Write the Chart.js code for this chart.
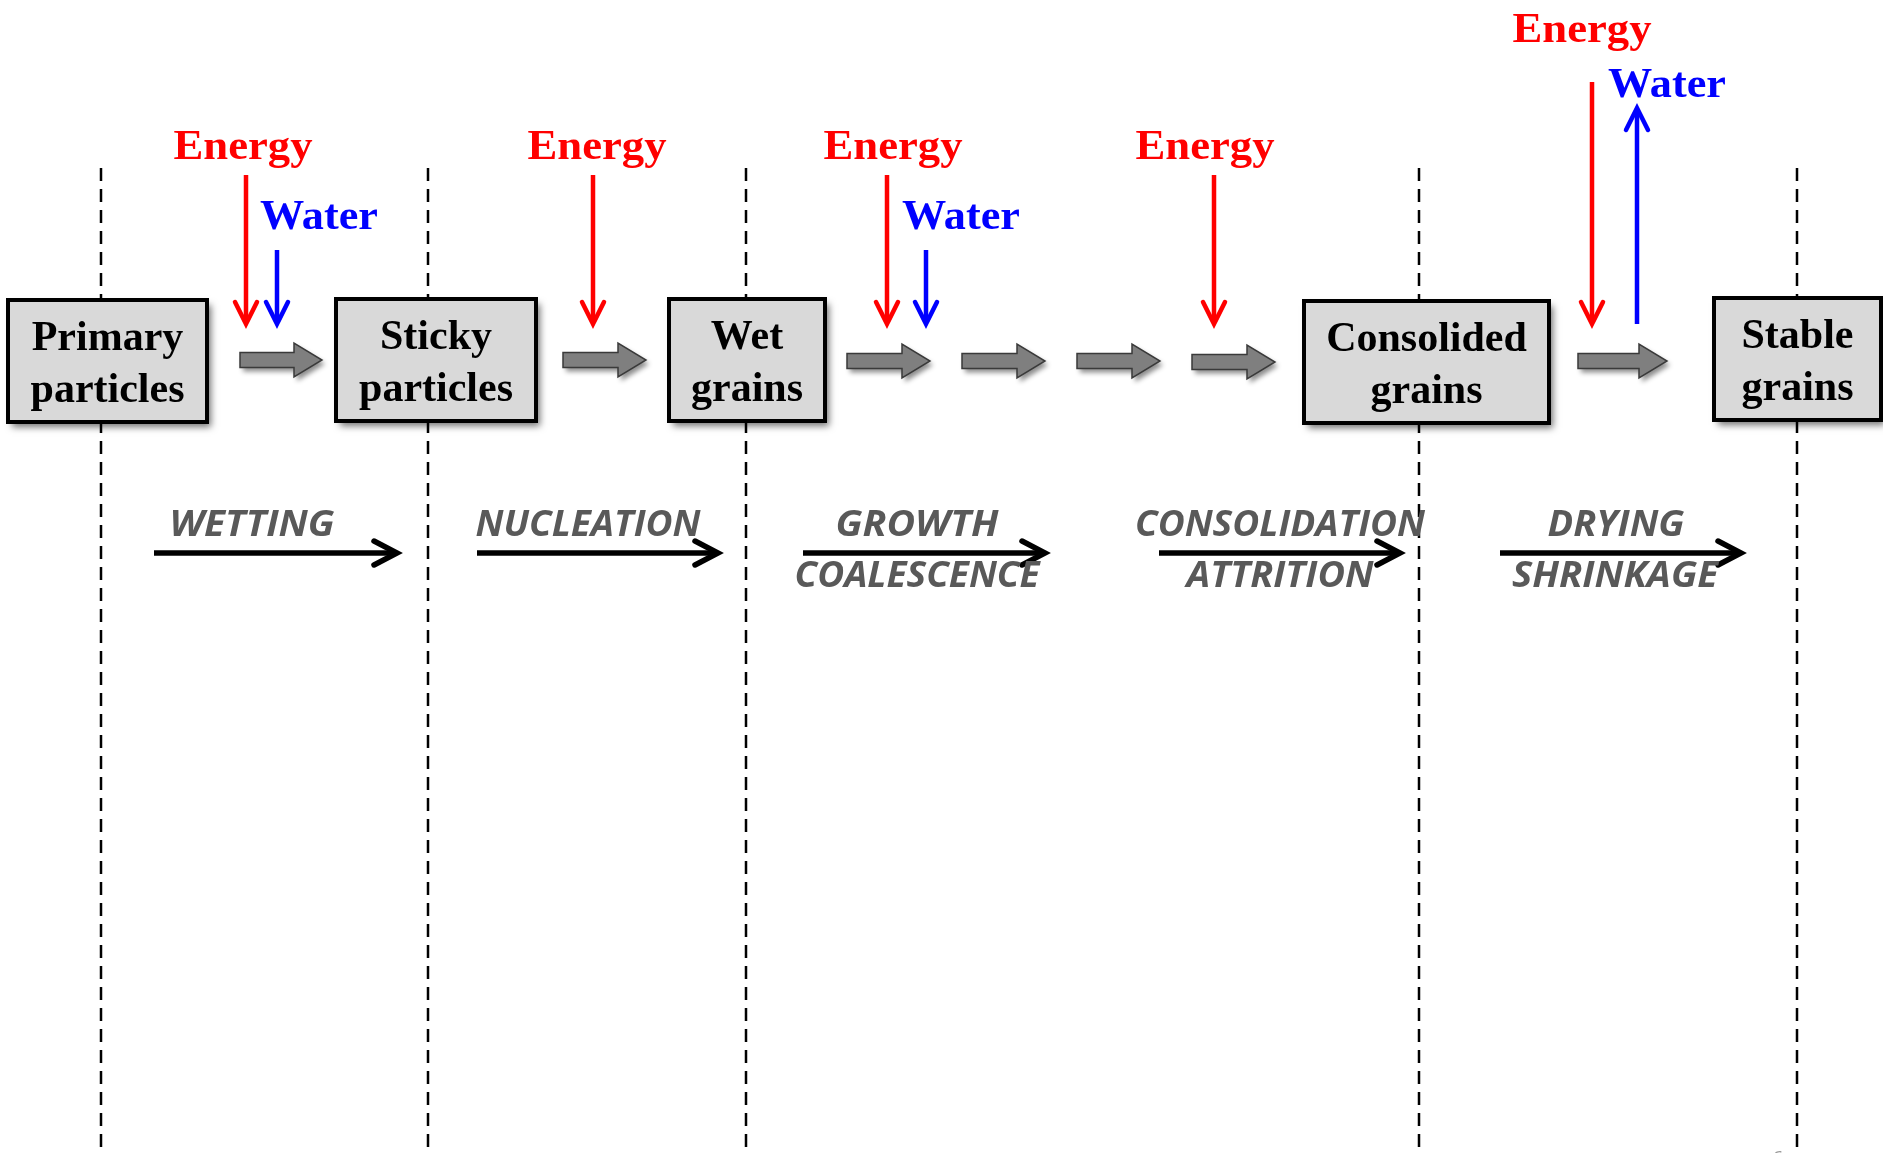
<!DOCTYPE html>
<html><head><meta charset="utf-8">
<script src="https://cdn.jsdelivr.net/npm/chart.js@4"></script>
<style>html,body{margin:0;padding:0;background:#fff;overflow:hidden}#wrap{width:1883px;height:1153px}</style>
</head><body><div id="wrap"><canvas id="c" width="1883" height="1153"></canvas></div>
<script>
// ---- diagram data (diagram coordinates: x 0..1883, y 0..1153 downward) ----
const stageTop = ['Primary', 'Sticky', 'Wet', 'Consolided', 'Stable'];
const stageBottom = ['particles', 'particles', 'grains', 'grains', 'grains'];
const stageLeft = [8, 336, 669, 1304, 1714];
const stageRight = [207, 536, 825, 1549, 1881];
const stageMid = [361, 360, 360, 362, 359];
const dividerX = [101, 428, 746, 1419, 1797];
const energyX = [246, 593, 887, 1214, 1592];
const energyTopY = [175, 175, 175, 175, 82];
const energyLabelX = [243, 597, 893, 1205, 1582];
const energyLabelY = [159, 159, 159, 159, 42];
const waterInX = [277, 926];
const waterOutX = [1637];
const waterLabelX = [319, 961, 1667];
const waterLabelY = [229, 229, 97];
const flowStart = [240, 563, 847, 962, 1077, 1192, 1578];
const flowEnd = [322, 646, 930, 1045, 1160, 1275, 1667];
const flowY = [360, 360, 361, 361, 361, 362, 361];
const processTop = ['WETTING', 'NUCLEATION', 'GROWTH', 'CONSOLIDATION', 'DRYING'];
const processBottom = ['', '', 'COALESCENCE', 'ATTRITION', 'SHRINKAGE'];
const processTopX = [252, 588, 917, 1280, 1616];
const processTopW = [165, 225, 163, 290, 137];
const processBottomX = [0, 0, 917, 1280, 1615];
const processBottomW = [0, 0, 245, 187, 206];
const processArrowFrom = [154, 477, 803, 1159, 1500];
const processArrowTo = [397, 718, 1045, 1400, 1741];

const dividerSets = dividerX.map(x => ({
  type: 'line', data: [{x: x, y: 168}, {x: x, y: 1153}],
  borderColor: '#000', borderWidth: 2.5, borderDash: [13, 8], pointRadius: 0, showLine: true, fill: false
}));

function fitText(ctx, text, cx, by, w) {
  const m = ctx.measureText(text).width;
  const s = w ? w / m : 1;
  ctx.save();
  ctx.translate(cx, by);
  ctx.scale(s, 1);
  ctx.textAlign = 'center';
  ctx.textBaseline = 'alphabetic';
  ctx.fillText(text, 0, 0);
  ctx.restore();
}

function vArrow(ctx, x, y0, y1, color, lw) {
  const dir = y1 > y0 ? 1 : -1;
  ctx.save();
  ctx.strokeStyle = color; ctx.lineWidth = lw; ctx.lineCap = 'butt'; ctx.lineJoin = 'miter';
  ctx.beginPath(); ctx.moveTo(x, y0); ctx.lineTo(x, y1 - dir * 2); ctx.stroke();
  ctx.lineCap = 'round';
  ctx.beginPath();
  ctx.moveTo(x - 11, y1 - dir * 22); ctx.lineTo(x, y1); ctx.lineTo(x + 11, y1 - dir * 22);
  ctx.stroke();
  ctx.restore();
}

const diagram = {
  id: 'diagram',
  afterDatasetsDraw(chart) {
    const ctx = chart.ctx, X = v => chart.scales.x.getPixelForValue(v), Y = v => chart.scales.y.getPixelForValue(v);
    // stage boxes
    for (let i = 0; i < stageTop.length; i++) {
      const l = X(stageLeft[i]), r = X(stageRight[i]), mid = Y(stageMid[i]);
      const t = mid - 61, b = mid + 61;
      ctx.save();
      ctx.shadowColor = 'rgba(0,0,0,0.55)'; ctx.shadowBlur = 7; ctx.shadowOffsetX = 4; ctx.shadowOffsetY = 5;
      ctx.fillStyle = '#d9d9d9';
      ctx.fillRect(l, t, r - l, b - t);
      ctx.restore();
      ctx.save();
      ctx.strokeStyle = '#000'; ctx.lineWidth = 4;
      ctx.strokeRect(l, t, r - l, b - t);
      ctx.fillStyle = '#000';
      ctx.font = 'bold 42px "Liberation Serif"';
      const cx = (l + r) / 2;
      fitText(ctx, stageTop[i], cx, mid - 11, null);
      fitText(ctx, stageBottom[i], cx, mid + 41, null);
      ctx.restore();
    }
    // gray flow arrows
    for (let i = 0; i < flowStart.length; i++) {
      const x0 = X(flowStart[i]), x1 = X(flowEnd[i]), y = Y(flowY[i]);
      const hl = 28, sh = 7.5, hh = 17;
      const path = () => {
        ctx.beginPath();
        ctx.moveTo(x0, y - sh); ctx.lineTo(x1 - hl, y - sh); ctx.lineTo(x1 - hl, y - hh);
        ctx.lineTo(x1, y); ctx.lineTo(x1 - hl, y + hh); ctx.lineTo(x1 - hl, y + sh); ctx.lineTo(x0, y + sh);
        ctx.closePath();
      };
      ctx.save();
      ctx.shadowColor = 'rgba(0,0,0,0.45)'; ctx.shadowBlur = 5; ctx.shadowOffsetX = 3; ctx.shadowOffsetY = 4;
      path(); ctx.fillStyle = '#7f7f7f'; ctx.fill();
      ctx.restore();
      ctx.save();
      path(); ctx.strokeStyle = '#3a3a3a'; ctx.lineWidth = 1.5; ctx.stroke();
      ctx.restore();
    }
    // energy / water arrows and labels
    ctx.save();
    ctx.font = 'bold 43px "Liberation Serif"';
    ctx.fillStyle = '#ff0000';
    for (let i = 0; i < energyX.length; i++) {
      vArrow(ctx, X(energyX[i]), Y(energyTopY[i]), Y(324), '#ff0000', 4.5);
      fitText(ctx, 'Energy', X(energyLabelX[i]), Y(energyLabelY[i]), 139);
    }
    ctx.fillStyle = '#0000ff';
    for (let i = 0; i < waterInX.length; i++) vArrow(ctx, X(waterInX[i]), Y(250), Y(324), '#0000ff', 4.5);
    for (let i = 0; i < waterOutX.length; i++) vArrow(ctx, X(waterOutX[i]), Y(324), Y(108), '#0000ff', 4.5);
    for (let i = 0; i < waterLabelX.length; i++) fitText(ctx, 'Water', X(waterLabelX[i]), Y(waterLabelY[i]), 118);
    ctx.restore();
    // process arrows
    for (let i = 0; i < processArrowFrom.length; i++) {
      const x0 = X(processArrowFrom[i]), x1 = X(processArrowTo[i]), y = Y(553);
      ctx.save();
      ctx.strokeStyle = '#000'; ctx.lineWidth = 5.5;
      ctx.beginPath(); ctx.moveTo(x0, y); ctx.lineTo(x1 - 3, y); ctx.stroke();
      ctx.lineCap = 'round'; ctx.lineJoin = 'miter';
      ctx.beginPath(); ctx.moveTo(x1 - 23, y - 12); ctx.lineTo(x1, y); ctx.lineTo(x1 - 23, y + 12); ctx.stroke();
      ctx.restore();
    }
    // process labels
    ctx.save();
    ctx.fillStyle = '#595959';
    ctx.font = 'italic bold 35px "Open Sans"';
    for (let i = 0; i < processTop.length; i++) {
      fitText(ctx, processTop[i], X(processTopX[i]), Y(536), processTopW[i]);
      if (processBottom[i]) fitText(ctx, processBottom[i], X(processBottomX[i]), Y(587), processBottomW[i]);
    }
    ctx.restore();
    // page number fragment
    ctx.save();
    ctx.fillStyle = '#9a9a9a';
    ctx.font = '20px "Open Sans"';
    ctx.fillText('6', X(1772), Y(1165));
    ctx.restore();
  }
};

new Chart(document.getElementById('c'), {
  type: 'scatter',
  data: { datasets: dividerSets },
  options: {
    responsive: false, animation: false, devicePixelRatio: 1,
    layout: { padding: 0 },
    plugins: { legend: { display: false }, tooltip: { enabled: false } },
    scales: {
      x: { type: 'linear', min: 0, max: 1883, display: false },
      y: { type: 'linear', min: 0, max: 1153, reverse: true, display: false }
    }
  },
  plugins: [diagram]
});
</script>
</body></html>
